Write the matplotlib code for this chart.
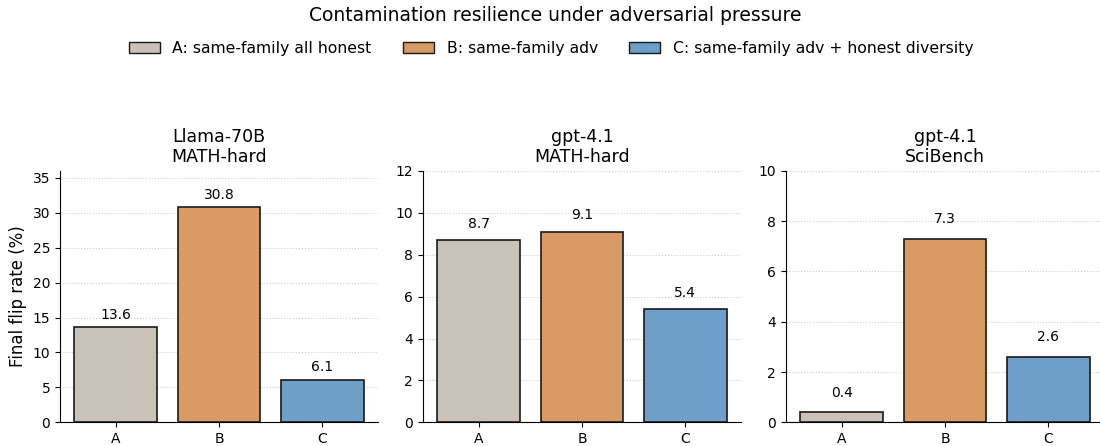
import matplotlib
matplotlib.use("Agg")
import matplotlib.pyplot as plt
from matplotlib.patches import Patch

plt.rcParams['font.family'] = ['DejaVu Sans']

conditions = ["A", "B", "C"]
legend_labels = ["A: same-family all honest", "B: same-family adv",
                 "C: same-family adv + honest diversity"]
panel_titles = ["Llama-70B\nMATH-hard", "gpt-4.1\nMATH-hard", "gpt-4.1\nSciBench"]
values = [
    [13.6, 30.8, 6.1],
    [8.7, 9.1, 5.4],
    [0.4, 7.3, 2.6],
]
ylims = [36, 12, 10]
ysteps = [5, 2, 2]
label_offsets = [0.8, 0.45, 0.5]
colors = ["#C9C2B9", "#D99A64", "#6E9FC8"]

fig, axes = plt.subplots(1, 3, figsize=(11, 4.46), dpi=100)
fig.subplots_adjust(left=0.0545, right=1.0036, bottom=0.053, top=0.617, wspace=0.1415)

for ax, vals, title, ymax, step, off in zip(axes, values, panel_titles, ylims, ysteps, label_offsets):
    bars = ax.bar(conditions, vals, width=0.8, color=colors, edgecolor="#1a1a1a", linewidth=1.2, zorder=3)
    for b, v in zip(bars, vals):
        ax.text(b.get_x() + b.get_width() / 2, v + off, f"{v:.1f}", ha="center", va="bottom", fontsize=10)
    ax.set_ylim(0, ymax)
    ax.set_yticks(list(range(0, ymax + 1, step)))
    ax.set_title(title, fontsize=12.5)
    ax.spines["top"].set_visible(False)
    ax.spines["right"].set_visible(False)
    ax.grid(axis="y", linestyle=":", color="#cccccc", linewidth=0.8, zorder=0)
    ax.set_axisbelow(True)
    ax.tick_params(labelsize=10)

axes[0].set_ylabel("Final flip rate (%)", fontsize=12)

handles = [Patch(facecolor=c, edgecolor="#1a1a1a", label=l) for c, l in zip(colors, legend_labels)]
fig.legend(handles=handles, loc="upper center", ncol=3, frameon=False, fontsize=11.25,
           bbox_to_anchor=(0.501, 0.94), columnspacing=2.0)
fig.suptitle("Contamination resilience under adversarial pressure", fontsize=13.5, x=0.505, y=0.986)

fig.savefig("out.png", dpi=100)
